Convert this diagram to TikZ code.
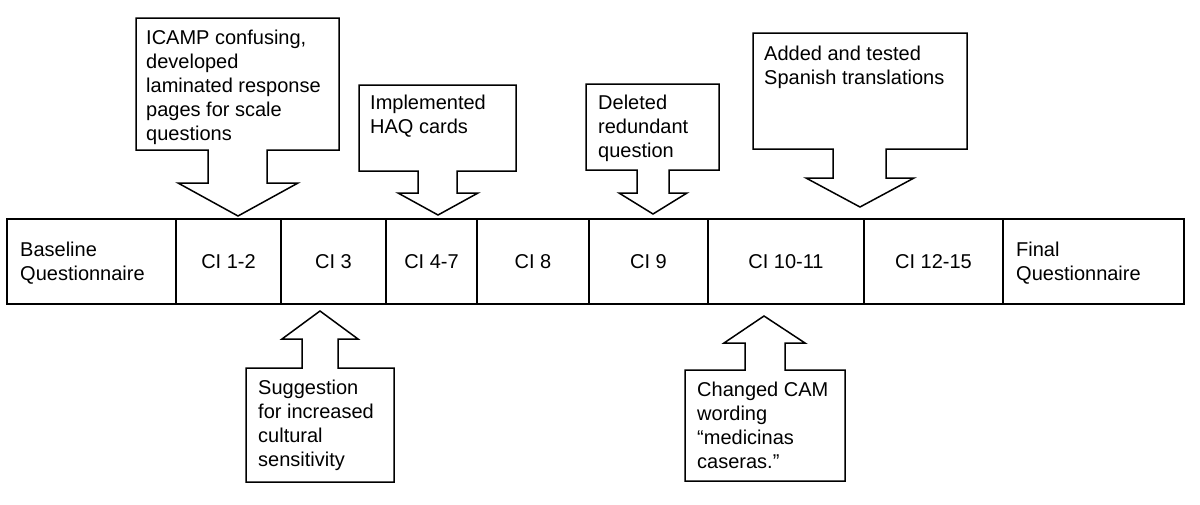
\documentclass[tikz,border=0pt]{standalone}
\usepackage{fontspec}
\setmainfont{Liberation Sans}
\begin{document}
\begin{tikzpicture}[x=1pt,y=-1pt,
  outline/.style={draw=black,line width=1.5pt,line join=miter},
  cell/.style={draw=black,line width=1.5pt,minimum height=85pt,inner sep=0pt,font=\fontsize{20}{24}\selectfont},
  txt/.style={anchor=north west,inner sep=0pt,align=left,font=\fontsize{20}{24}\selectfont}]
\useasboundingbox (0,0) rectangle (1200,504);
\fill[white] (0,0) rectangle (1200,504);
% timeline cells
\node[cell,minimum width=169pt] (c0) at (91.5,261.5) {};
\node[cell,minimum width=105pt] (c1) at (228.5,261.5) {CI 1-2};
\node[cell,minimum width=105pt] (c2) at (333.5,261.5) {CI 3};
\node[cell,minimum width=91pt]  (c3) at (431.5,261.5) {CI 4-7};
\node[cell,minimum width=112pt] (c4) at (533,261.5) {CI 8};
\node[cell,minimum width=119pt] (c5) at (648.5,261.5) {CI 9};
\node[cell,minimum width=156pt] (c6) at (786,261.5) {CI 10-11};
\node[cell,minimum width=139pt] (c7) at (933.5,261.5) {CI 12-15};
\node[cell,minimum width=181pt] (c8) at (1093.5,261.5) {};
\node[txt] (t0) at (20,239) {\strut Baseline\\Questionnaire};
\node[txt] (t8) at (1016,239) {\strut Final\\Questionnaire};
% down callouts
\draw[outline] (136,18) -- (339,18) -- (339,150) -- (267,150) -- (267,183) -- (298,183) -- (238,216) -- (178,183) -- (208,183) -- (208,150) -- (136,150) -- cycle;
\node[txt] (k1) at (146,27.7) {\strut ICAMP confusing,\\developed\\laminated response\\pages for scale\\questions};
\draw[outline] (359,85) -- (516,85) -- (516,171) -- (457,171) -- (457,193) -- (478,193) -- (438,215) -- (398,193) -- (418,193) -- (418,171) -- (359,171) -- cycle;
\node[txt] (k2) at (370,92.7) {\strut Implemented\\HAQ cards};
\draw[outline] (586,84) -- (719,84) -- (719,170) -- (669,170) -- (669,193) -- (687,193) -- (653,214) -- (619,193) -- (637,193) -- (637,170) -- (586,170) -- cycle;
\node[txt] (k3) at (598,92.4) {\strut Deleted\\redundant\\question};
\draw[outline] (753,33) -- (967,33) -- (967,149) -- (886,149) -- (886,178) -- (914,178) -- (860,207) -- (806,178) -- (833,178) -- (833,149) -- (753,149) -- cycle;
\node[txt] (k4) at (764,43) {\strut Added and tested\\Spanish translations};
% up callouts
\draw[outline] (320,311) -- (358,339) -- (338,339) -- (338,368) -- (394,368) -- (394,482) -- (246,482) -- (246,368) -- (302,368) -- (302,339) -- (282,339) -- cycle;
\node[txt] (k5) at (258,377) {\strut Suggestion\\for increased\\cultural\\sensitivity};
\draw[outline] (764,316) -- (805,343) -- (785,343) -- (785,370) -- (845,370) -- (845,481) -- (685,481) -- (685,370) -- (745,370) -- (745,343) -- (724,343) -- cycle;
\node[txt] (k6) at (697,379) {\strut Changed CAM\\wording\\“medicinas\\caseras.”};
\end{tikzpicture}
\end{document}
